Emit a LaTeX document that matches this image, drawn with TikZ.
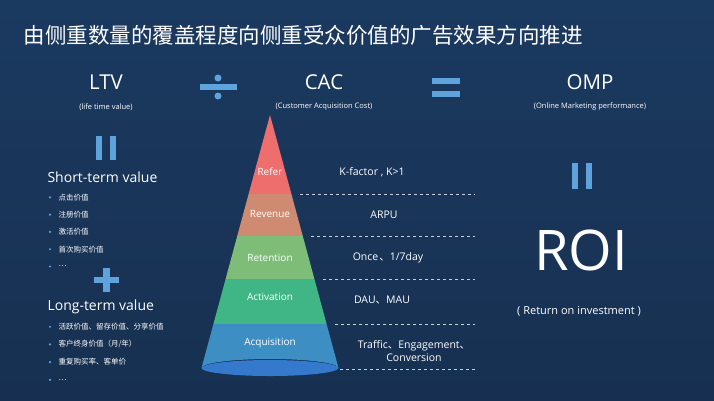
\documentclass[tikz,border=0pt]{standalone}
\usepackage{fontspec}
\setmainfont{Open Sans}
\newfontfamily\cjk{Noto Sans CJK SC}
\usetikzlibrary{positioning}
\definecolor{bgtop}{HTML}{1B3A60}
\definecolor{bgbot}{HTML}{173051}
\definecolor{symblue}{HTML}{5FA3DC}
\definecolor{cRefer}{HTML}{EE6E6E}
\definecolor{cRevenue}{HTML}{CF8B72}
\definecolor{cRetention}{HTML}{7DBD78}
\definecolor{cActivation}{HTML}{40B585}
\definecolor{cAcquisition}{HTML}{3D8EC2}
\tikzset{
  head/.style={text=white, font=\fontsize{20.5}{23}\selectfont},
  sub/.style={text=white, font=\fontsize{7.5}{9}\selectfont},
  group/.style={text=white, font=\fontsize{14}{16}\selectfont, anchor=west},
  item/.style={text=white, font=\cjk\fontsize{7.5}{9}\selectfont, anchor=west},
  layer/.style={text=white, font=\fontsize{10}{12}\selectfont},
  metric/.style={text=white, font=\fontsize{10.5}{12.5}\selectfont},
  sep/.style={draw=white!75!bgtop, dashed, line width=0.6pt}
}
\newcommand{\dotb}[1]{\fill[symblue] (#1) circle (1.2);}
\begin{document}
\begin{tikzpicture}[x=1pt,y=-1pt]
% background
\shade[top color=bgtop, bottom color=bgbot] (0,0) rectangle (714,400);
\useasboundingbox (0,0) rectangle (714,400);
% title
\node[text=white, font=\cjk\fontsize{21.5}{24}\selectfont, anchor=west] (title) at (20,35) {由侧重数量的覆盖程度向侧重受众价值的广告效果方向推进};
% top line
\node[head] (ltv) at (106,82) {LTV};
\node[head] (cac) at (324,82) {CAC};
\node[head] (omp) at (590,82) {OMP};
\node[sub] (ltvsub) at (106,107) {(life time value)};
\node[sub] (cacsub) at (324,107) {(Customer Acquisition Cost)};
\node[sub] (ompsub) at (590,107) {(Online Marketing performance)};
% symbols
\fill[symblue] (200,84) rectangle (237,90);
\fill[symblue] (218,78) circle (3.5);
\fill[symblue] (218,96) circle (3.5);
\fill[symblue] (432,78) rectangle (460,84);
\fill[symblue] (432,91) rectangle (460,97);
\fill[symblue] (96,136) rectangle (102,160);
\fill[symblue] (110,136) rectangle (116,160);
\fill[symblue] (572,163) rectangle (578,189);
\fill[symblue] (586,163) rectangle (592,189);
\fill[symblue] (103,268) rectangle (110,292);
\fill[symblue] (94,277) rectangle (119,283);
% left column
\node[group] (short) at (44,177) {Short-term value};
\foreach \t [count=\i] in {点击价值,注册价值,激活价值,首次购买价值,…} {
  \dotb{50,{180+17.3*\i}}
  \node[item] (s\i) at (55,{180+17.3*\i}) {\t};
}
\node[group] (long) at (44,307) {Long-term value};
\foreach \t [count=\i] in {活跃价值、留存价值、分享价值,客户终身价值（月/年）,重复购买率、客单价,…} {
  \dotb{50,{309+17.7*\i}}
  \node[item] (l\i) at (55,{309+17.7*\i}) {\t};
}
% cone
\begin{scope}
\clip (270,115) -- (338.5,368) arc[start angle=0, end angle=-180, x radius=68.5, y radius=9] -- cycle;
\fill[cRefer] (190,110) rectangle (350,194);
\fill[cRevenue] (190,194) rectangle (350,236);
\fill[cRetention] (190,236) rectangle (350,279);
\fill[cActivation] (190,279) rectangle (350,324);
\fill[cAcquisition] (190,324) rectangle (350,380);
\end{scope}
\fill[cAcquisition!85!blue] (270,368) ellipse (68.5 and 8);
\node[layer] (refer) at (270,172) {Refer};
\node[layer] (revenue) at (270,214) {Revenue};
\node[layer] (retention) at (270,258) {Retention};
\node[layer] (activation) at (270,297) {Activation};
\node[layer] (acquisition) at (270,343) {Acquisition};
% separators
\foreach \y/\x in {194/300, 236/311, 279/323, 324/335, 369/340}
  \draw[sep] (\x,\y) -- (475,\y);
% metrics
\node[metric] (kf) at (372,172) {K-factor , K>1};
\node[metric] (arpu) at (384,215) {ARPU};
\node[metric] (once) at (388,258) {Once\hspace{1pt}{\cjk 、}1/7day};
\node[metric] (dau) at (382,300) {DAU{\cjk 、}MAU};
\node[metric, align=center] (traffic) at (414,351) {Traffic{\cjk 、}Engagement{\cjk 、}\\Conversion};
% right column
\node[text=white, font=\fontsize{56}{62}\selectfont] (roi) at (581,250) {ROI};
\node[text=white, font=\fontsize{11}{13}\selectfont] (ret) at (579,311) {( Return on investment )};
\end{tikzpicture}
\end{document}
